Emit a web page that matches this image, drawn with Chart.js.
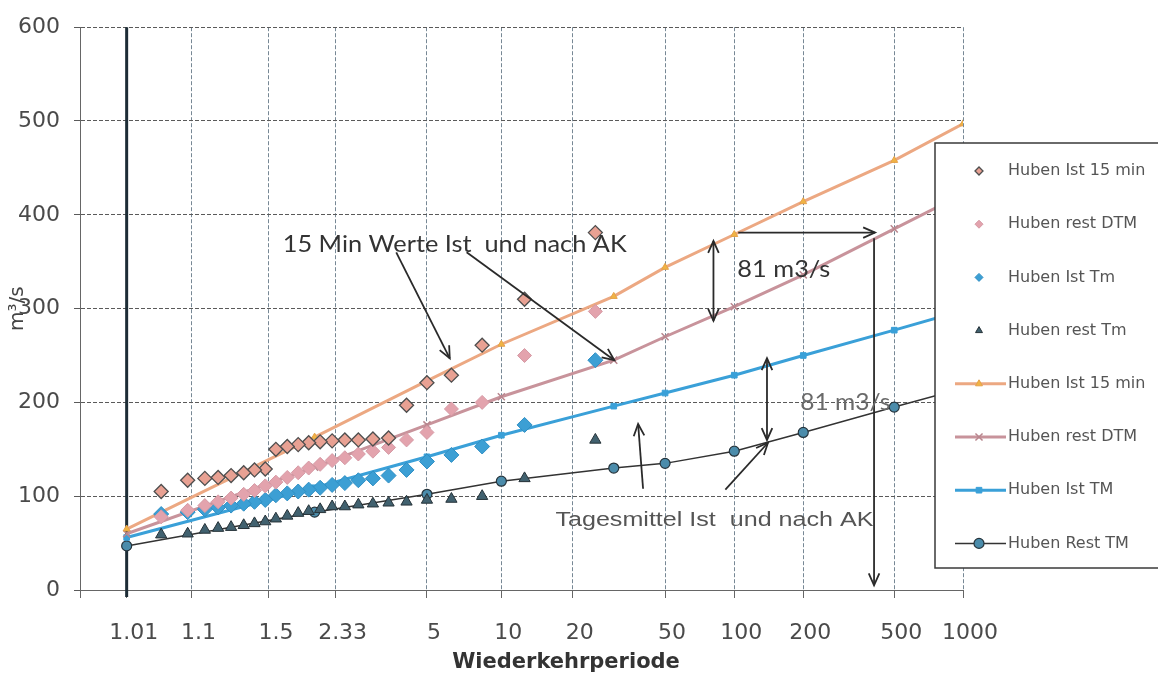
<!DOCTYPE html>
<html>
<head>
<meta charset="utf-8">
<script src="https://cdn.jsdelivr.net/npm/chart.js@4.4.1/dist/chart.umd.min.js"></script>
<style>
  html, body { margin: 0; padding: 0; background: #fff; }
</style>
</head>
<body>
<canvas id="chart" width="1158" height="677"></canvas>
<script>
// x axis: return periods shown as labels (Gumbel paper)
const tickPeriods = [1.01, 1.1, 1.5, 2.33, 5, 10, 20, 50, 100, 200, 500, 1000];

// ranked annual maxima, return period per rank
const obsPeriods = [25, 12.5, 8.33, 6.25, 5, 4.17, 3.57, 3.13, 2.78, 2.5, 2.27, 2.08,
                    1.92, 1.79, 1.67, 1.56, 1.47, 1.39, 1.32, 1.25, 1.19, 1.14, 1.09, 1.04];
const ist15Obs   = [381, 310, 261, 229, 221, 197, 162, 161, 160, 160, 159, 158, 157, 155, 153, 150, 129, 128, 125, 122, 120, 119, 117, 105];
const restDtmObs = [297, 250, 200, 193, 168, 160, 152, 148, 145, 141, 138, 134, 130, 125, 120, 115, 111, 106, 102, 98, 94, 90, 85, 78];
const istTmObs   = [245, 176, 153, 144, 137, 128, 122, 119, 117, 114, 112, 109, 107, 105, 103, 101, 96, 94, 92, 90, 88, 86, 83, 81];
const restTmObs  = [160, 119, 100, 97, 96, 94, 93, 92, 91, 89, 89, 86, 84, 82, 79, 76, 73, 71, 69, 67, 66, 64, 60, 59];

// fitted distributions
const fitPeriods  = [1.01, 2, 5, 10, 30, 50, 100, 200, 500, 1000];
const ist15Fit    = [65, 163, 223, 262, 313, 344, 379, 414, 458, 497];
const restDtmFit  = [60, 131, 176, 206, 245, 270, 302, 336, 385, 422];
const istTmFit    = [56, 109, 142, 165, 196, 210, 229, 250, 277, 298];
const restTmFit   = [47, 83, 102, 116, 130, 135, 148, 168, 195, 215];

const seriesNames = ['Huben Ist 15 min', 'Huben rest DTM', 'Huben Ist Tm', 'Huben rest Tm',
                     'Huben Ist 15 min', 'Huben rest DTM', 'Huben Ist TM', 'Huben Rest TM'];

// hand drawn notes, in (reduced variate, m3/s)
const noteTexts = [
  { text: '15 Min Werte Ist  und nach AK', at: [1.78, 368], width: 344, font: '23px Lato', color: '#333' },
  { text: '81 m3/s', at: [5.10, 342], width: 93, font: '24px Lato', color: '#333' },
  { text: '81 m3/s', at: [5.72, 200], width: 90, font: '24px Lato', color: '#6a6a6a' },
  { text: 'Tagesmittel Ist  und nach AK', at: [4.40, 74], width: 318, font: '20px "Liberation Sans"', color: '#555' }
];
const noteArrows = [
  { from: [1.19, 360], to: [1.73, 247], heads: [false, true] },
  { from: [1.90, 360], to: [3.39, 245], heads: [false, true] },
  { from: [4.39, 372], to: [4.39, 287], heads: [true, true] },
  { from: [4.64, 381], to: [6.02, 381], heads: [false, true] },
  { from: [6.01, 375], to: [6.01, 5], heads: [false, true] },
  { from: [4.93, 247], to: [4.93, 160], heads: [true, true] },
  { from: [3.68, 108], to: [3.63, 177], heads: [false, true] },
  { from: [4.51, 107], to: [4.94, 157], heads: [false, true] }
];

const gumbel = T => -Math.log(-Math.log(1 - 1 / T));
const obsPoints = vals => vals.map((v, i) => ({ x: gumbel(obsPeriods[i]), y: v }));
const fitPoints = vals => vals.map((v, i) => ({ x: gumbel(fitPeriods[i]), y: v }));

function marker(style, fill, stroke, radius, bw) {
  return { pointStyle: style, pointBackgroundColor: fill, pointBorderColor: stroke,
           pointRadius: radius, pointHoverRadius: radius, pointBorderWidth: bw };
}

const datasets = [
  Object.assign({ label: seriesNames[0], data: obsPoints(ist15Obs), showLine: false },
    marker('rectRot', '#e8a193', '#4f4f4f', 7, 1.3)),
  Object.assign({ label: seriesNames[1], data: obsPoints(restDtmObs), showLine: false },
    marker('rectRot', '#e3a3ad', '#d59aa5', 7, 1)),
  Object.assign({ label: seriesNames[2], data: obsPoints(istTmObs), showLine: false },
    marker('rectRot', '#3c9fd4', '#2f8fc4', 7.5, 1)),
  Object.assign({ label: seriesNames[3], data: obsPoints(restTmObs), showLine: false },
    marker('triangle', '#41616f', '#263238', 6.5, 1)),
  Object.assign({ label: seriesNames[4], data: fitPoints(ist15Fit), showLine: true,
    borderColor: '#eca882', borderWidth: 3 }, marker('triangle', '#f0b444', '#e6a24a', 4, 1)),
  Object.assign({ label: seriesNames[5], data: fitPoints(restDtmFit), showLine: true,
    borderColor: '#c8939b', borderWidth: 3 }, marker('crossRot', '#c8939b', '#b8868e', 5, 1.5)),
  Object.assign({ label: seriesNames[6], data: fitPoints(istTmFit), showLine: true,
    borderColor: '#3aa0d8', borderWidth: 3 }, marker('rect', '#3aa0d8', '#3aa0d8', 4, 1)),
  Object.assign({ label: seriesNames[7], data: fitPoints(restTmFit), showLine: true,
    borderColor: '#333', borderWidth: 1.5 }, marker('circle', '#4b8cab', '#26343c', 5, 1.2))
];

function drawArrowHead(ctx, x1, y1, x2, y2) {
  const a = Math.atan2(y2 - y1, x2 - x1), s = 13, w = 0.42;
  ctx.beginPath();
  ctx.moveTo(x2 - s * Math.cos(a - w), y2 - s * Math.sin(a - w));
  ctx.lineTo(x2, y2);
  ctx.lineTo(x2 - s * Math.cos(a + w), y2 - s * Math.sin(a + w));
  ctx.stroke();
}

// centred text squeezed to the width seen in the scan
function fitText(ctx, text, x, y, width, font, color) {
  ctx.save();
  ctx.font = font;
  ctx.fillStyle = color;
  ctx.textAlign = 'center';
  ctx.textBaseline = 'middle';
  const w = ctx.measureText(text).width;
  ctx.translate(x, y);
  ctx.scale(width / w, 1);
  ctx.fillText(text, 0, 0);
  ctx.restore();
}

const notesPlugin = {
  id: 'notes',
  beforeDatasetsDraw(chart) {
    // vertical axis crossing at 1.01
    const { ctx, scales: { x, y } } = chart;
    const px = x.getPixelForValue(gumbel(1.01));
    ctx.save();
    ctx.strokeStyle = '#1d2c36';
    ctx.lineWidth = 3;
    ctx.beginPath();
    ctx.moveTo(px, y.top);
    ctx.lineTo(px, y.bottom + 7);
    ctx.stroke();
    ctx.restore();
  },
  afterDatasetsDraw(chart) {
    const { ctx, scales: { x, y } } = chart;
    ctx.save();
    ctx.strokeStyle = '#2a2a2a';
    ctx.lineWidth = 1.8;
    noteArrows.forEach(a => {
      const x1 = x.getPixelForValue(a.from[0]), y1 = y.getPixelForValue(a.from[1]);
      const x2 = x.getPixelForValue(a.to[0]), y2 = y.getPixelForValue(a.to[1]);
      ctx.beginPath();
      ctx.moveTo(x1, y1);
      ctx.lineTo(x2, y2);
      ctx.stroke();
      if (a.heads[0]) drawArrowHead(ctx, x2, y2, x1, y1);
      if (a.heads[1]) drawArrowHead(ctx, x1, y1, x2, y2);
    });
    noteTexts.forEach(t => {
      fitText(ctx, t.text, x.getPixelForValue(t.at[0]), y.getPixelForValue(t.at[1]), t.width, t.font, t.color);
    });
    ctx.restore();
  },
  afterDraw(chart) {
    const ctx = chart.ctx;
    ctx.save();
    // x axis title
    ctx.font = 'bold 21px "DejaVu Sans"';
    ctx.fillStyle = '#333';
    ctx.textAlign = 'center';
    ctx.textBaseline = 'middle';
    ctx.fillText('Wiederkehrperiode', 566, 663);

    // legend box overlapping the plot
    ctx.fillStyle = '#fff';
    ctx.fillRect(935, 143, 240, 425);
    ctx.strokeStyle = '#3a3a3a';
    ctx.lineWidth = 1.5;
    ctx.strokeRect(935, 143, 240, 425);
    ctx.font = '16px "DejaVu Sans"';
    ctx.textAlign = 'left';
    chart.data.datasets.forEach((ds, i) => {
      const cy = 171 + i * 53.2;
      if (ds.showLine) {
        ctx.strokeStyle = ds.borderColor;
        ctx.lineWidth = ds.borderWidth;
        ctx.beginPath();
        ctx.moveTo(955, cy);
        ctx.lineTo(1006, cy);
        ctx.stroke();
      }
      ctx.fillStyle = ds.pointBackgroundColor;
      ctx.strokeStyle = ds.pointBorderColor;
      ctx.lineWidth = ds.pointBorderWidth;
      Chart.helpers.drawPoint(ctx, { pointStyle: ds.pointStyle, radius: ds.showLine ? ds.pointRadius : 4,
        borderWidth: ds.pointBorderWidth, rotation: 0 }, 979, cy);
      ctx.fillStyle = '#555';
      ctx.fillText(ds.label, 1008, cy);
    });
    ctx.restore();
  }
};

const tickFont = { family: 'DejaVu Sans', size: 22 };

new Chart(document.getElementById('chart'), {
  type: 'scatter',
  data: { datasets: datasets },
  options: {
    responsive: false,
    animation: false,
    layout: { padding: { left: 0, top: 20, right: 195, bottom: 0 } },
    plugins: { legend: { display: false }, tooltip: { enabled: false } },
    scales: {
      x: {
        type: 'linear',
        min: -2,
        max: gumbel(1000),
        afterBuildTicks: scale => {
          scale.ticks = [{ value: -2 }].concat(tickPeriods.map(T => ({ value: gumbel(T) })));
        },
        afterFit: scale => { scale.height = 87; },
        ticks: {
          autoSkip: false,
          maxRotation: 0,
          padding: 22,
          labelOffset: 7,
          color: '#4a4a4a',
          font: tickFont,
          callback: (value, index) => index === 0 ? '' : String(tickPeriods[index - 1])
        },
        grid: { color: 'rgba(95,115,130,0.85)', lineWidth: 1, tickLength: 8, tickColor: '#666' },
        border: { color: '#666', dash: [4, 2] }
      },
      y: {
        min: 0,
        max: 600,
        afterFit: scale => { scale.width = 80; },
        ticks: { stepSize: 100, padding: 14, color: '#4a4a4a', font: tickFont },
        grid: { color: '#5a5a5a', lineWidth: 1, tickLength: 6 },
        border: { color: '#666', dash: [4, 2] },
        title: { display: true, text: 'm³/s', color: '#444',
                 font: { family: 'DejaVu Sans', size: 20 }, padding: { top: 6, bottom: 0 } }
      }
    }
  },
  plugins: [notesPlugin]
});
</script>
</body>
</html>
